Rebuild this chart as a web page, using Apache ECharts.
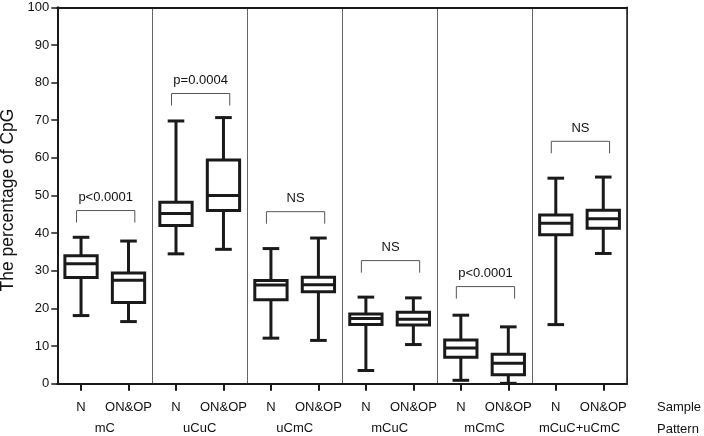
<!DOCTYPE html>
<html>
<head>
<meta charset="utf-8">
<script src="https://cdn.jsdelivr.net/npm/echarts@6/dist/echarts.min.js"></script>
<style>
html,body{margin:0;padding:0;background:#fff;}
#chart{width:704px;height:436px;}
</style>
</head>
<body>
<div id="chart"></div>
<script>
const samples = ['N','ON&OP','N','ON&OP','N','ON&OP','N','ON&OP','N','ON&OP','N','ON&OP'];
const patterns = ['mC','uCuC','uCmC','mCuC','mCmC','mCuC+uCmC'];
const whiskerLow  = [18.1, 16.5, 34.5, 35.7, 12.1, 11.5, 3.5, 10.4, 0.9, 0.1, 15.7, 34.6];
const q1          = [28.2, 21.6, 42.0, 46.0, 22.3, 24.4, 15.7, 15.6, 7.0, 2.4, 39.6, 41.3];
const median      = [31.9, 27.5, 45.2, 50.0, 26.2, 26.3, 17.3, 17.1, 9.5, 5.4, 42.6, 43.8];
const q3          = [34.0, 29.4, 48.2, 59.4, 27.4, 28.3, 18.5, 19.0, 11.6, 7.8, 44.8, 46.1];
const whiskerHigh = [38.9, 37.9, 69.8, 70.7, 35.9, 38.7, 23.0, 22.8, 18.2, 15.1, 54.6, 54.9];
const pLabels = ['p<0.0001','p=0.0004','NS','NS','p<0.0001','NS'];
const bracketLevel = [46.0, 77.1, 45.7, 32.7, 25.8, 64.4];
const yTicks = [0,10,20,30,40,50,60,70,80,90,100];

const FONT = "'Liberation Sans', Arial, Helvetica, sans-serif";
const INK = '#1a1a1a';

const boxData = samples.map((s, i) => [i, whiskerLow[i], q1[i], median[i], q3[i], whiskerHigh[i]]);
const bracketData = patterns.map((p, g) => [2 * g, 2 * g + 1, bracketLevel[g], g]);

const chart = echarts.init(document.getElementById('chart'), null, {renderer: 'canvas'});
chart.setOption({
  animation: false,
  backgroundColor: '#fff',
  textStyle: {fontFamily: FONT},
  grid: {left: 57.3, right: 77, top: 7.3, bottom: 52.3, containLabel: false, outerBoundsMode: 'none'},
  xAxis: [
    {
      type: 'category', data: samples, position: 'bottom', boundaryGap: true, z: 3,
      axisLine: {show: true, lineStyle: {color: INK, width: 2}},
      axisTick: {show: true, alignWithLabel: true, length: 7, lineStyle: {color: INK, width: 2}},
      axisLabel: {interval: 0, margin: 17, fontSize: 13, color: '#111', fontFamily: FONT},
      splitLine: {show: false}
    },
    {
      type: 'category', data: patterns, position: 'bottom', boundaryGap: true, z: 1,
      axisLine: {show: false}, axisTick: {show: false},
      axisLabel: {interval: 0, margin: 38, fontSize: 13, color: '#111', fontFamily: FONT},
      splitLine: {show: true, interval: 0, lineStyle: {color: '#666', width: 1}}
    },
    {
      type: 'category', data: patterns, position: 'top', z: 3,
      axisLine: {show: true, lineStyle: {color: INK, width: 2.2}},
      axisTick: {show: false}, axisLabel: {show: false}, splitLine: {show: false}
    }
  ],
  yAxis: [
    {
      type: 'value', min: yTicks[0], max: yTicks[yTicks.length - 1], interval: 10, position: 'left', z: 3,
      name: 'The percentage of CpG', nameLocation: 'middle', nameGap: 38, nameRotate: 90,
      nameTextStyle: {fontSize: 17.5, color: '#111', fontFamily: FONT, padding: [0, 0, 0, -9]},
      axisLine: {show: true, lineStyle: {color: INK, width: 2}},
      axisTick: {show: true, length: 6, lineStyle: {color: INK, width: 1.5}},
      axisLabel: {margin: 8, fontSize: 13, color: '#111', fontFamily: FONT},
      splitLine: {show: false}
    },
    {
      type: 'value', min: yTicks[0], max: yTicks[yTicks.length - 1], interval: 10, position: 'right', z: 3,
      axisLine: {show: true, lineStyle: {color: INK, width: 1.5}},
      axisTick: {show: false}, axisLabel: {show: false}, splitLine: {show: false}
    }
  ],
  graphic: [
    {type: 'text', x: 657, y: 407, style: {text: 'Sample', fill: '#111', font: '13px ' + FONT, textAlign: 'left', textVerticalAlign: 'middle'}},
    {type: 'text', x: 657, y: 429, style: {text: 'Pattern', fill: '#111', font: '13px ' + FONT, textAlign: 'left', textVerticalAlign: 'middle'}}
  ],
  series: [
    {
      type: 'custom', xAxisIndex: 0, yAxisIndex: 0, z: 5,
      data: boxData,
      encode: {x: 0, y: [1, 2, 3, 4, 5]},
      renderItem: function (params, api) {
        const i = api.value(0);
        const band = api.size([1, 0])[0];
        const hb = band * 0.34, hc = band * 0.175;
        const pL = api.coord([i, api.value(1)]);
        const p1 = api.coord([i, api.value(2)]);
        const pM = api.coord([i, api.value(3)]);
        const p3 = api.coord([i, api.value(4)]);
        const pH = api.coord([i, api.value(5)]);
        const cx = pL[0];
        const st = {stroke: INK, lineWidth: 3, fill: null};
        return {
          type: 'group',
          children: [
            {type: 'line', shape: {x1: cx, y1: pL[1], x2: cx, y2: p1[1]}, style: st},
            {type: 'line', shape: {x1: cx, y1: p3[1], x2: cx, y2: pH[1]}, style: st},
            {type: 'line', shape: {x1: cx - hc, y1: pL[1], x2: cx + hc, y2: pL[1]}, style: st},
            {type: 'line', shape: {x1: cx - hc, y1: pH[1], x2: cx + hc, y2: pH[1]}, style: st},
            {type: 'rect', shape: {x: cx - hb, y: p3[1], width: 2 * hb, height: p1[1] - p3[1]}, style: {stroke: INK, lineWidth: 3, fill: '#fff'}},
            {type: 'line', shape: {x1: cx - hb, y1: pM[1], x2: cx + hb, y2: pM[1]}, style: st}
          ]
        };
      }
    },
    {
      type: 'custom', xAxisIndex: 0, yAxisIndex: 0, z: 5,
      data: bracketData,
      encode: {x: [0, 1], y: 2},
      renderItem: function (params, api) {
        const a = api.coord([api.value(0), api.value(2)]);
        const b = api.coord([api.value(1), api.value(2)]);
        const x1 = a[0] - 4.5, x2 = b[0] + 6.3, y = a[1];
        const label = pLabels[api.value(3)];
        return {
          type: 'group',
          children: [
            {type: 'polyline', shape: {points: [[x1, y + 12], [x1, y], [x2, y], [x2, y + 12]]}, style: {stroke: '#555', lineWidth: 1, fill: null}},
            {type: 'text', style: {text: label, x: (x1 + x2) / 2, y: y - 13, textAlign: 'center', textVerticalAlign: 'middle', fill: '#111', font: '13px ' + FONT}}
          ]
        };
      }
    }
  ]
});
</script>
</body>
</html>
